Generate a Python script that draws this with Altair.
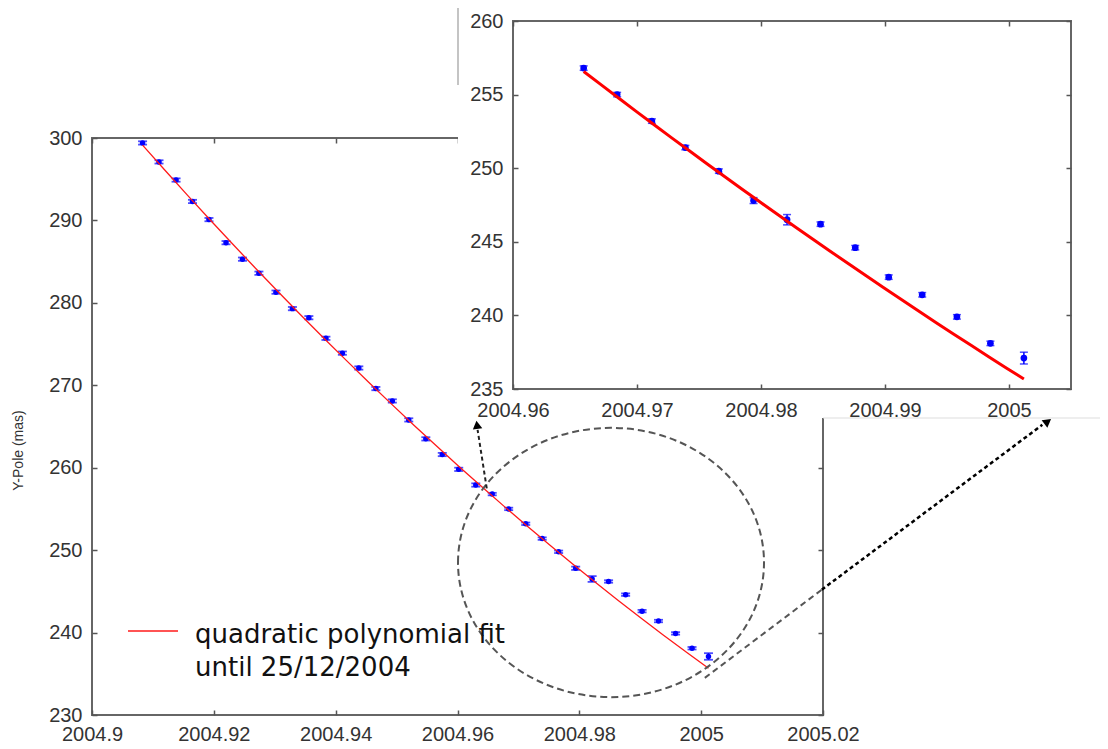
import altair as alt
import pandas as pd

# ---------------- data ----------------
t_year = [2004.9083, 2004.9110, 2004.9138, 2004.9165, 2004.9192, 2004.9220, 2004.9247,
          2004.9274, 2004.9302, 2004.9329, 2004.9356, 2004.9384, 2004.9411, 2004.9438,
          2004.9466, 2004.9493, 2004.9520, 2004.9548, 2004.9575, 2004.9602, 2004.9630,
          2004.9657, 2004.9684, 2004.9712, 2004.9739, 2004.9766, 2004.9794, 2004.9821,
          2004.9848, 2004.9876, 2004.9903, 2004.9930, 2004.9958, 2004.9985, 2005.0012]
y_pole = [299.4, 297.1, 294.9, 292.3, 290.1, 287.3, 285.3,
          283.6, 281.3, 279.3, 278.2, 275.7, 273.9, 272.1,
          269.6, 268.1, 265.8, 263.5, 261.6, 259.8, 257.9,
          256.8, 255.0, 253.2, 251.4, 249.8, 247.8, 246.5,
          246.2, 244.6, 242.6, 241.4, 239.9, 238.1, 237.1]
y_err = [0.2, 0.2, 0.2, 0.2, 0.2, 0.2, 0.2,
         0.2, 0.2, 0.2, 0.2, 0.2, 0.2, 0.2,
         0.2, 0.2, 0.2, 0.2, 0.2, 0.2, 0.2,
         0.15, 0.15, 0.15, 0.15, 0.15, 0.2, 0.35,
         0.15, 0.15, 0.15, 0.15, 0.15, 0.15, 0.4]
fit_until = 2004.9822          # 25/12/2004
inset_start = 2004.965

main_x_ticks = [2004.9, 2004.92, 2004.94, 2004.96, 2004.98, 2005.0, 2005.02]
main_y_ticks = [230, 240, 250, 260, 270, 280, 290, 300]
inset_x_ticks = [2004.96, 2004.97, 2004.98, 2004.99, 2005.0]
inset_y_ticks = [235, 240, 245, 250, 255, 260]

legend_lines = ["quadratic polynomial fit", "until 25/12/2004"]
y_title = "Y-Pole (mas)"

# annotations (in main-plot data coordinates)
zoom_circle = {"t": 2004.9852, "y": 248.5}
arrow_up = {"x1": 2004.9648, "y1": 257.5, "x2": 2004.9633, "y2": 264.6}
arrow_up_head = {"t": 2004.9632, "y": 265.2}
arrow_right_a = {"x1": 2005.0006, "y1": 234.5, "x2": 2005.0198, "y2": 245.2}
arrow_right_b = {"x1": 2005.0198, "y1": 245.2, "x2": 2005.0560, "y2": 265.2}
arrow_right_head = {"t": 2005.0569, "y": 265.6}

df = pd.DataFrame({"t": t_year, "y": y_pole, "err": y_err})
df["lo"] = df["y"] - df["err"]
df["hi"] = df["y"] + df["err"]
inset_df = df[df["t"] >= inset_start]

# ---------------- layout ----------------
W, H = 731, 577
FONT = "Liberation Sans"

main_x = alt.Scale(domain=[2004.9, 2005.02], nice=False, zero=False)
main_y = alt.Scale(domain=[230, 300], nice=False, zero=False)
inset_x = alt.Scale(domain=[2004.96, 2005.005], range=[421, 979], nice=False, zero=False)
inset_y = alt.Scale(domain=[235, 260], range=[251, -117], nice=False, zero=False)


def ax(orient, offset, values, labels=True, pad=9, zindex=0, **kw):
    return alt.Axis(orient=orient, offset=offset, values=values, labels=labels,
                    tickSize=5, tickWidth=1.5, tickColor="#555", domain=False,
                    grid=False, format=".6~g", labelFontSize=20, labelFont=FONT,
                    labelColor="#333", labelPadding=pad, labelFlush=False,
                    labelOverlap=False, zindex=zindex, **kw)


# ---------------- main plot ----------------
base = alt.Chart(df)

m_rule = base.mark_rule(color="#0000ff", strokeWidth=1.5).encode(
    x=alt.X("t:Q", scale=main_x, axis=None),
    y=alt.Y("lo:Q", scale=main_y, axis=None), y2="hi:Q")
m_tlo = base.mark_tick(color="#0000ff", orient="horizontal", size=9, thickness=1.8).encode(
    x=alt.X("t:Q", scale=main_x, axis=None),
    y=alt.Y("lo:Q", scale=main_y, axis=None))
m_thi = base.mark_tick(color="#0000ff", orient="horizontal", size=9, thickness=1.8).encode(
    x=alt.X("t:Q", scale=main_x, axis=None),
    y=alt.Y("hi:Q", scale=main_y, axis=None))
m_pts = base.mark_circle(color="#0000ff", size=30, opacity=1).encode(
    x=alt.X("t:Q", scale=main_x,
            axis=ax("bottom", -5, main_x_ticks, pad=9, title=None)),
    y=alt.Y("y:Q", scale=main_y,
            axis=ax("left", -5, main_y_ticks, pad=10, title=y_title,
                    titleFontSize=14, titleFontWeight="normal", titleColor="#333",
                    titleFont=FONT, titleX=-72, titleY=312)))
m_fit = base.transform_filter(alt.datum.t <= fit_until).transform_regression(
    "t", "y", method="poly", order=2, extent=[t_year[0], t_year[-1]]
).mark_line(color="#ff1a1a", strokeWidth=1.3).encode(
    x=alt.X("t:Q", scale=main_x,
            axis=ax("top", -5, main_x_ticks, labels=False, title=None)),
    y=alt.Y("y:Q", scale=main_y,
            axis=ax("right", -5, main_y_ticks, labels=False, title=None)))

ann = alt.Chart(pd.DataFrame([zoom_circle]))
ellipse = "M-1,0A1,0.88,0,1,1,1,0A1,0.88,0,1,1,-1,0Z"
m_circle = ann.mark_point(shape=ellipse, size=306 * 306, filled=False, stroke="#555",
                          strokeWidth=2, strokeDash=[7, 4], opacity=1).encode(
    x=alt.X("t:Q", scale=main_x, axis=None), y=alt.Y("y:Q", scale=main_y, axis=None))


def seg(d, color, dash, width=2):
    return alt.Chart(pd.DataFrame([d])).mark_rule(
        color=color, strokeDash=dash, strokeWidth=width).encode(
        x=alt.X("x1:Q", scale=main_x, axis=None), x2="x2:Q",
        y=alt.Y("y1:Q", scale=main_y, axis=None), y2="y2:Q")


def head(d, angle):
    return alt.Chart(pd.DataFrame([d])).mark_point(
        shape="triangle-up", filled=True, color="#000", size=90, angle=angle, opacity=1).encode(
        x=alt.X("t:Q", scale=main_x, axis=None), y=alt.Y("y:Q", scale=main_y, axis=None))


m_arrows = [seg(arrow_up, "#222", [4, 3]), head(arrow_up_head, 352),
            seg(arrow_right_a, "#555", [6, 4]), seg(arrow_right_b, "#000", [4, 3], 2.5),
            head(arrow_right_head, 53)]

leg = alt.Chart(pd.DataFrame({"a": [0]}))
m_leg_line = leg.mark_rule(color="#ff1a1a", strokeWidth=1.5).encode(
    x=alt.value(36), x2=alt.value(86), y=alt.value(493))
m_leg_text = leg.mark_text(text=legend_lines, align="left", baseline="alphabetic",
                           font="DejaVu Sans", fontSize=26, lineHeight=33,
                           color="#111").encode(x=alt.value(103), y=alt.value(505))

main = alt.layer(m_rule, m_tlo, m_thi, m_pts, m_fit, m_circle, *m_arrows,
                 m_leg_line, m_leg_text).resolve_axis(x="independent", y="independent")

# ---------------- inset background (covers part of the main frame) ----------------
bg = alt.Chart(pd.DataFrame({"a": [0]}))
bg_rect = bg.mark_rect(color="white").encode(
    x=alt.value(366), x2=alt.value(1020), y=alt.value(-140), y2=alt.value(280))
bg_edge = bg.mark_rule(color="#b0b0b0", strokeWidth=1.5).encode(
    x=alt.value(366), y=alt.value(-133), y2=alt.value(-53))
bg_edge2 = bg.mark_rule(color="#dddddd", strokeWidth=1).encode(
    x=alt.value(731), x2=alt.value(1020), y=alt.value(280))

# ---------------- inset ----------------
ib = alt.Chart(inset_df)
i_box = bg.mark_rect(fill="white", stroke="#666", strokeWidth=2).encode(
    x=alt.XDatum(2004.96, scale=inset_x, axis=None), x2=alt.X2Datum(2005.005),
    y=alt.YDatum(235, scale=inset_y, axis=None), y2=alt.Y2Datum(260))
i_rule = ib.mark_rule(color="#0000ff", strokeWidth=1.5).encode(
    x=alt.X("t:Q", scale=inset_x, axis=None),
    y=alt.Y("lo:Q", scale=inset_y, axis=None), y2="hi:Q")
i_tlo = ib.mark_tick(color="#0000ff", orient="horizontal", size=8, thickness=1.5).encode(
    x=alt.X("t:Q", scale=inset_x, axis=None), y=alt.Y("lo:Q", scale=inset_y, axis=None))
i_thi = ib.mark_tick(color="#0000ff", orient="horizontal", size=8, thickness=1.5).encode(
    x=alt.X("t:Q", scale=inset_x, axis=None), y=alt.Y("hi:Q", scale=inset_y, axis=None))
i_pts = ib.mark_circle(color="#0000ff", size=45, opacity=1).encode(
    x=alt.X("t:Q", scale=inset_x,
            axis=ax("bottom", -331, inset_x_ticks, pad=11, zindex=1, title=None)),
    y=alt.Y("y:Q", scale=inset_y,
            axis=ax("left", -426, inset_y_ticks, pad=10, zindex=1, title=None)))
i_fit = base.transform_filter(alt.datum.t <= fit_until).transform_regression(
    "t", "y", method="poly", order=2, extent=[inset_df["t"].iloc[0], t_year[-1]]
).mark_line(color="#ff0000", strokeWidth=3).encode(
    x=alt.X("t:Q", scale=inset_x,
            axis=ax("top", 112, inset_x_ticks, labels=False, zindex=1, title=None)),
    y=alt.Y("y:Q", scale=inset_y,
            axis=ax("right", 243, inset_y_ticks, labels=False, zindex=1, title=None)))

inset = alt.layer(i_box, i_rule, i_tlo, i_thi, i_pts, i_fit).resolve_axis(
    x="independent", y="independent")

chart = alt.layer(main, bg_rect, bg_edge, bg_edge2, inset).resolve_scale(
    x="independent", y="independent").resolve_axis(
    x="independent", y="independent").properties(
    width=W, height=H,
    padding={"left": 84, "top": 130, "right": 277, "bottom": 34},
    autosize=alt.AutoSizeParams(type="none"),
    background="white",
).configure_view(stroke="#666", strokeWidth=2)

chart.save("out.html", embed_options={"renderer": "svg", "actions": False})
